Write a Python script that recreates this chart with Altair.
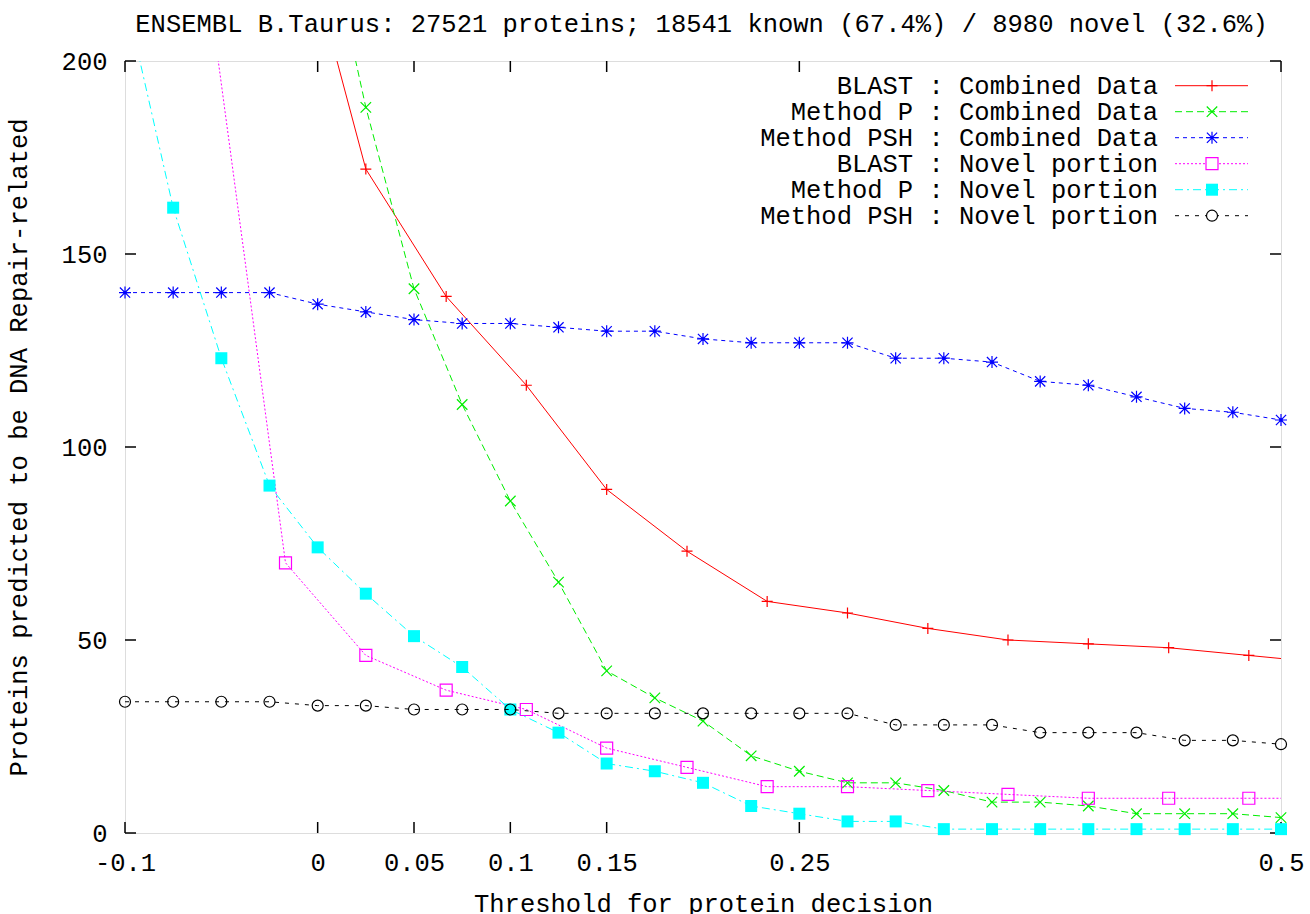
import altair as alt
import pandas as pd

TITLE = "ENSEMBL B.Taurus: 27521 proteins; 18541 known (67.4%) / 8980 novel (32.6%)"
X_TITLE = "Threshold for protein decision"
Y_TITLE = "Proteins predicted to be DNA Repair-related"

# thresholds (x values) per series
x_fine = [-0.1, -0.075, -0.05, -0.025, 0.0, 0.025, 0.05, 0.075, 0.1, 0.125, 0.15, 0.175,
          0.2, 0.225, 0.25, 0.275, 0.3, 0.325, 0.35, 0.375, 0.4, 0.425, 0.45, 0.475, 0.5]
x_p_comb = [0.0, 0.025, 0.05, 0.075, 0.1, 0.125, 0.15, 0.175, 0.2, 0.225, 0.25, 0.275,
            0.3, 0.325, 0.35, 0.375, 0.4, 0.425, 0.45, 0.475, 0.5]
x_blast_comb = [-0.0167, 0.025, 0.0667, 0.1083, 0.15, 0.1917, 0.2333, 0.275, 0.3167,
                0.3583, 0.4, 0.4417, 0.4833, 0.525]
x_blast_novel = [-0.0583, -0.0167, 0.025, 0.0667, 0.1083, 0.15, 0.1917, 0.2333, 0.275,
                 0.3167, 0.3583, 0.4, 0.4417, 0.4833, 0.525]

# series values
blast_combined = [250, 172, 139, 116, 89, 73, 60, 57, 53, 50, 49, 48, 46, 44]
p_combined = [245, 188, 141, 111, 86, 65, 42, 35, 29, 20, 16, 13, 13, 11, 8, 8, 7, 5, 5, 5, 4]
psh_combined = [140, 140, 140, 140, 137, 135, 133, 132, 132, 131, 130, 130, 128, 127, 127,
                127, 123, 123, 122, 117, 116, 113, 110, 109, 107]
blast_novel = [225, 70, 46, 37, 32, 22, 17, 12, 12, 11, 10, 9, 9, 9, 9]
p_novel = [217, 162, 123, 90, 74, 62, 51, 43, 32, 26, 18, 16, 13, 7, 5, 3, 3, 1, 1, 1, 1, 1,
           1, 1, 1]
psh_novel = [34, 34, 34, 34, 33, 33, 32, 32, 32, 31, 31, 31, 31, 31, 31, 31, 28, 28, 28, 26,
             26, 26, 24, 24, 23]

labels = ["BLAST : Combined Data", "Method P : Combined Data", "Method PSH : Combined Data",
          "BLAST : Novel portion", "Method P : Novel portion", "Method PSH : Novel portion"]

x_ticks = [-0.1, 0, 0.05, 0.1, 0.15, 0.25, 0.5]
y_ticks = [0, 50, 100, 150, 200]

FONT = "Liberation Mono"
FS = 25.5
W, H = 1156, 772

PLUS = "M-1,0L1,0M0,-1L0,1"
XSHAPE = "M-1,-1L1,1M-1,1L1,-1"
STAR = "M-1,0L1,0M0,-1L0,1M-0.85,-0.85L0.85,0.85M-0.85,0.85L0.85,-0.85"

styles = [
    dict(color="#ff0000", dash=None, shape=PLUS, size=121, filled=False),
    dict(color="#00ee00", dash=[7, 4], shape=XSHAPE, size=110, filled=False),
    dict(color="#0000ff", dash=[4, 4], shape=STAR, size=144, filled=False),
    dict(color="#ff00ff", dash=[2, 2], shape="square", size=144, filled=False),
    dict(color="#00ffff", dash=[8, 4, 2, 4], shape="square", size=144, filled=True),
    dict(color="#000000", dash=[4, 6], shape="circle", size=121, filled=False),
]
series = [
    (x_blast_comb, blast_combined),
    (x_p_comb, p_combined),
    (x_fine, psh_combined),
    (x_blast_novel, blast_novel),
    (x_fine, p_novel),
    (x_fine, psh_novel),
]

xscale = alt.Scale(domain=[-0.1, 0.5], nice=False, zero=False)
yscale = alt.Scale(domain=[0, 200], nice=False, zero=False)

x_axis = alt.Axis(values=x_ticks, labelExpr="'' + datum.value", domain=False, ticks=False,
                  tickSize=0, grid=False, labelFont=FONT, labelFontSize=FS, labelColor="black",
                  labelPadding=29, labelBaseline="middle", labelFlush=False, labelOverlap=False,
                  title=X_TITLE, titleFont=FONT, titleFontSize=FS, titleFontWeight="normal",
                  titleColor="black", titleX=W / 2, titleY=70, titleAlign="center",
                  titleBaseline="middle", titleAngle=0)
y_axis = alt.Axis(values=y_ticks, labelExpr="'' + datum.value", domain=False, ticks=False,
                  tickSize=0, grid=False, labelFont=FONT, labelFontSize=FS, labelColor="black",
                  labelPadding=18, labelBaseline="middle", labelFlush=False, labelOverlap=False,
                  title=Y_TITLE, titleFont=FONT, titleFontSize=FS, titleFontWeight="normal",
                  titleColor="black", titleX=-107, titleY=386, titleAlign="center",
                  titleBaseline="middle", titleAngle=270)


def X(field):
    return alt.X(f"{field}:Q", scale=xscale, axis=x_axis)


def Y(field):
    return alt.Y(f"{field}:Q", scale=yscale, axis=y_axis)


layers = []

# chart title as a text mark above the frame
layers.append(alt.Chart(pd.DataFrame({"t": [TITLE]})).mark_text(
    font=FONT, fontSize=FS, align="center", baseline="alphabetic", color="black").encode(
    text="t:N", x=alt.value(W / 2 - 1.5), y=alt.value(-29.5)))

# inward ticks (gnuplot style) on all four sides
xt = pd.DataFrame({"v": x_ticks})
yt = pd.DataFrame({"v": y_ticks})
TL = 11
layers.append(alt.Chart(xt).mark_rule(color="black", strokeWidth=1.5).encode(
    x=X("v"), y=alt.value(H), y2=alt.value(H - TL)))
layers.append(alt.Chart(xt).mark_rule(color="black", strokeWidth=1.5).encode(
    x=X("v"), y=alt.value(0), y2=alt.value(TL)))
layers.append(alt.Chart(yt).mark_rule(color="black", strokeWidth=1.5).encode(
    y=Y("v"), x=alt.value(0), x2=alt.value(TL)))
layers.append(alt.Chart(yt).mark_rule(color="black", strokeWidth=1.5).encode(
    y=Y("v"), x=alt.value(W - TL), x2=alt.value(W)))

for (xs, ys), st in zip(series, styles):
    df = pd.DataFrame({"x": xs, "y": ys})
    line_kw = dict(color=st["color"], strokeWidth=1, clip=True)
    if st["dash"]:
        line_kw["strokeDash"] = st["dash"]
    layers.append(alt.Chart(df).mark_line(**line_kw).encode(x=X("x"), y=Y("y")))
    pt_kw = dict(shape=st["shape"], size=st["size"], filled=st["filled"], opacity=1)
    if st["filled"]:
        pt_kw.update(fill=st["color"], strokeWidth=0)
    else:
        pt_kw.update(stroke=st["color"], strokeWidth=1.2, fill=None)
    layers.append(
        alt.Chart(df).transform_filter("datum.y <= 200 && datum.x <= 0.5")
        .mark_point(**pt_kw).encode(x=X("x"), y=Y("y"))
    )
    if st["shape"] == STAR:
        layers.append(
            alt.Chart(df).transform_filter("datum.y <= 200 && datum.x <= 0.5")
            .mark_point(shape="circle", size=12, filled=True, color=st["color"], opacity=1)
            .encode(x=X("x"), y=Y("y"))
        )

# key (gnuplot style: text right aligned, sample to its right)
for i, (lab, st) in enumerate(zip(labels, styles)):
    yy = 24.7 + 26 * i
    ldf = pd.DataFrame({"label": [lab]})
    layers.append(alt.Chart(ldf).mark_text(font=FONT, fontSize=FS, align="right",
                                           baseline="middle", color="black").encode(
        text="label:N", x=alt.value(1033), y=alt.value(yy)))
    rk = dict(color=st["color"], strokeWidth=1)
    if st["dash"]:
        rk["strokeDash"] = st["dash"]
    layers.append(alt.Chart(ldf).mark_rule(**rk).encode(
        x=alt.value(1050), x2=alt.value(1123), y=alt.value(yy)))
    pk = dict(shape=st["shape"], size=st["size"], filled=st["filled"], opacity=1)
    if st["filled"]:
        pk.update(fill=st["color"], strokeWidth=0)
    else:
        pk.update(stroke=st["color"], strokeWidth=1.2,
                  fill="white" if st["shape"] in ("square", "circle") else None)
    layers.append(alt.Chart(ldf).mark_point(**pk).encode(x=alt.value(1087), y=alt.value(yy)))

chart = alt.layer(*layers).properties(
    width=W, height=H,
    autosize=alt.AutoSizeParams(type="none"),
    padding={"left": 125, "top": 61, "right": 29, "bottom": 81},
).configure_view(stroke="black", strokeWidth=2).configure(background="white")

chart.save("out.html", embed_options={"renderer": "svg", "actions": False})
